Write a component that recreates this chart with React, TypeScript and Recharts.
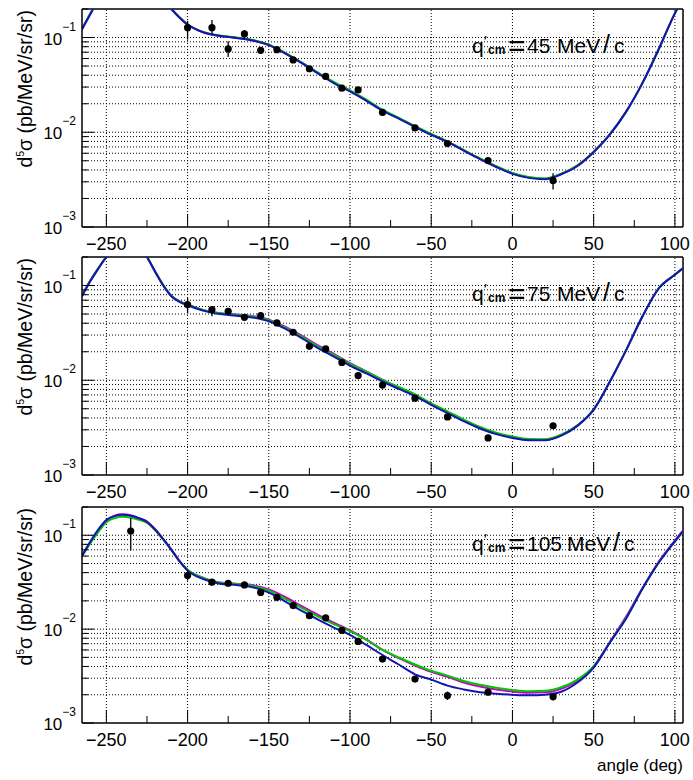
import React from 'react';
import { ComposedChart, Line, Scatter, XAxis, YAxis, ReferenceLine, ErrorBar } from 'recharts';

const FONT = '"Liberation Sans", Arial, Helvetica, sans-serif';
const BLUE = '#1414b4';
const GREEN = '#00c800';
const MAGENTA = '#c800c8';

// angles where the model curves are sampled (deg)
const curveAngles = [
  -265, -260, -255, -250, -245, -240, -235, -230, -225, -220, -215, -210, -205, -200,
  -190, -180, -170, -160, -150, -140, -130, -120, -110, -100, -90, -80, -70, -60, -50,
  -40, -30, -20, -10, 0, 10, 20, 30, 40, 50, 60, 70, 80, 90, 100, 105,
];

// q'cm = 45 MeV/c
const p1Blue = [
  0.122, 0.175, 0.25, 0.33, 0.4, 0.44, 0.45, 0.43, 0.38, 0.31, 0.25, 0.2, 0.163, 0.137,
  0.113, 0.104, 0.099, 0.093, 0.083, 0.068, 0.054, 0.042, 0.033, 0.027, 0.0215, 0.0169, 0.0139, 0.0114, 0.0094,
  0.0079, 0.0064, 0.0052, 0.0043, 0.00364, 0.0033, 0.0032, 0.0036, 0.0044, 0.0062, 0.0095, 0.0165, 0.033, 0.075, 0.18, 0.26,
];
const p1Green = [
  0.124, 0.178, 0.25, 0.33, 0.4, 0.44, 0.45, 0.43, 0.38, 0.31, 0.25, 0.2, 0.164, 0.138,
  0.114, 0.105, 0.1, 0.094, 0.084, 0.069, 0.055, 0.043, 0.034, 0.0277, 0.0221, 0.0173, 0.0142, 0.0116, 0.0096,
  0.008, 0.0065, 0.0053, 0.0044, 0.00372, 0.00337, 0.00326, 0.00365, 0.00448, 0.0062, 0.0095, 0.0164, 0.033, 0.075, 0.18, 0.26,
];
const p1Magenta = [
  0.123, 0.176, 0.25, 0.33, 0.4, 0.44, 0.45, 0.43, 0.38, 0.31, 0.25, 0.2, 0.163, 0.137,
  0.113, 0.104, 0.0995, 0.0935, 0.0835, 0.0685, 0.0545, 0.0425, 0.0335, 0.0273, 0.0218, 0.0171, 0.0141, 0.0115, 0.0095,
  0.00795, 0.00645, 0.00525, 0.00435, 0.00368, 0.00334, 0.00323, 0.00362, 0.00445, 0.0062, 0.0095, 0.0165, 0.033, 0.075, 0.18, 0.26,
];
const p1PtAngles = [-200, -185, -175, -165, -155, -145, -135, -125, -115, -105, -95, -80, -60, -40, -15, 25];
const p1PtValues = [0.127, 0.127, 0.0758, 0.109, 0.0733, 0.0745, 0.058, 0.0468, 0.0388, 0.0292, 0.028, 0.0162, 0.0111, 0.0076, 0.00503, 0.00309];
const p1ErrLow = [0.032, 0.019, 0.0135, 0.012, 0.004, 0.004, 0.003, 0.0025, 0.002, 0.0015, 0.0015, 0.0009, 0.0006, 0.0004, 0.0003, 0.0006];
const p1ErrHigh = [0.023, 0.026, 0.0155, 0.011, 0.004, 0.004, 0.003, 0.0025, 0.002, 0.0015, 0.0015, 0.0009, 0.0006, 0.0004, 0.0003, 0.0006];

// q'cm = 75 MeV/c
const p2Blue = [
  0.077, 0.11, 0.15, 0.2, 0.25, 0.285, 0.29, 0.26, 0.2, 0.14, 0.1, 0.077, 0.067, 0.062,
  0.054, 0.05, 0.048, 0.046, 0.042, 0.035, 0.028, 0.022, 0.0178, 0.0143, 0.0118, 0.0097, 0.0081, 0.0068, 0.0055,
  0.0045, 0.0037, 0.0031, 0.0027, 0.00246, 0.00233, 0.00232, 0.0026, 0.0033, 0.0049, 0.0097, 0.0208, 0.047, 0.093, 0.13, 0.152,
];
const p2Green = [
  0.078, 0.112, 0.152, 0.2, 0.25, 0.285, 0.29, 0.26, 0.2, 0.141, 0.101, 0.078, 0.068, 0.063,
  0.055, 0.051, 0.049, 0.047, 0.043, 0.036, 0.029, 0.0228, 0.0185, 0.0149, 0.0123, 0.0101, 0.0085, 0.0071, 0.0057,
  0.0047, 0.00385, 0.00322, 0.0028, 0.00255, 0.0024, 0.00238, 0.00266, 0.00335, 0.0049, 0.0097, 0.0208, 0.047, 0.093, 0.13, 0.152,
];
const p2Magenta = [
  0.078, 0.112, 0.152, 0.2, 0.25, 0.285, 0.29, 0.26, 0.2, 0.141, 0.101, 0.078, 0.068, 0.063,
  0.055, 0.051, 0.0495, 0.0475, 0.0437, 0.0368, 0.0298, 0.0235, 0.019, 0.0152, 0.0124, 0.0101, 0.0084, 0.007, 0.0056,
  0.0046, 0.0038, 0.00318, 0.00276, 0.0025, 0.00236, 0.00235, 0.00263, 0.00333, 0.0049, 0.0097, 0.0208, 0.047, 0.093, 0.13, 0.152,
];
const p2PtAngles = [-200, -185, -175, -165, -155, -145, -135, -125, -115, -105, -95, -80, -60, -40, -15, 25];
const p2PtValues = [0.063, 0.0557, 0.0535, 0.0462, 0.048, 0.0403, 0.0321, 0.0228, 0.0214, 0.0154, 0.0112, 0.0089, 0.00647, 0.0041, 0.00246, 0.00331];
const p2ErrLow = [0.012, 0.0084, 0.003, 0.0025, 0.0025, 0.002, 0.0016, 0.0012, 0.0011, 0.0008, 0.0006, 0.0005, 0.0003, 0.0002, 0.00015, 0.0002];
const p2ErrHigh = [0.011, 0.005, 0.003, 0.0025, 0.0025, 0.002, 0.0016, 0.0012, 0.0011, 0.0008, 0.0006, 0.0005, 0.0003, 0.0002, 0.00015, 0.0002];

// q'cm = 105 MeV/c
const p3Blue = [
  0.06, 0.085, 0.115, 0.145, 0.16, 0.165, 0.161, 0.152, 0.139, 0.115, 0.091, 0.07, 0.053, 0.042,
  0.034, 0.0305, 0.0295, 0.028, 0.0245, 0.0198, 0.0157, 0.0127, 0.0104, 0.0087, 0.0068, 0.0053, 0.0042, 0.0033, 0.0029,
  0.0025, 0.00228, 0.00213, 0.00205, 0.002, 0.00197, 0.002, 0.00215, 0.0027, 0.0039, 0.0072, 0.013, 0.027, 0.051, 0.086, 0.111,
];
const p3Green = [
  0.06, 0.082, 0.108, 0.138, 0.152, 0.157, 0.154, 0.146, 0.135, 0.113, 0.09, 0.07, 0.053, 0.043,
  0.035, 0.0312, 0.0302, 0.0289, 0.0257, 0.0211, 0.0169, 0.0137, 0.0113, 0.0095, 0.0077, 0.006, 0.005, 0.0042, 0.0036,
  0.0032, 0.0028, 0.00255, 0.00237, 0.00225, 0.00218, 0.0022, 0.0024, 0.0029, 0.004, 0.0072, 0.0132, 0.0268, 0.051, 0.086, 0.108,
];
const p3Magenta = [
  0.061, 0.083, 0.112, 0.145, 0.162, 0.167, 0.163, 0.152, 0.14, 0.116, 0.091, 0.071, 0.053, 0.043,
  0.035, 0.0313, 0.0305, 0.0294, 0.0265, 0.022, 0.0177, 0.0143, 0.0117, 0.0097, 0.0078, 0.006, 0.0049, 0.0041, 0.0035,
  0.0031, 0.0027, 0.00245, 0.00228, 0.00216, 0.0021, 0.00212, 0.00232, 0.0028, 0.004, 0.0073, 0.0136, 0.0272, 0.052, 0.088, 0.112,
];
const p3PtAngles = [-235, -200, -185, -175, -165, -155, -145, -135, -125, -115, -105, -95, -80, -60, -40, -15, 25];
const p3PtValues = [0.111, 0.0372, 0.0316, 0.0308, 0.0296, 0.0246, 0.0218, 0.0178, 0.0139, 0.0132, 0.0097, 0.0074, 0.0048, 0.00294, 0.00196, 0.00213, 0.0019];
const p3ErrLow = [0.042, 0.0043, 0.0025, 0.0018, 0.0016, 0.0014, 0.0012, 0.001, 0.0008, 0.0007, 0.0005, 0.0004, 0.0003, 0.00018, 0.0002, 0.00012, 0.00015];
const p3ErrHigh = [0.042, 0.005, 0.0025, 0.0018, 0.0016, 0.0014, 0.0012, 0.001, 0.0008, 0.0007, 0.0005, 0.0004, 0.0003, 0.00018, 0.0002, 0.00012, 0.00015];

// axes
const xMajorTicks = [-250, -200, -150, -100, -50, 0, 50, 100];
const xMinorTicks = [-225, -175, -125, -75, -25, 25, 75];
const xTicks = [...xMajorTicks, ...xMinorTicks].sort((a, b) => a - b);
const yTicks = [
  0.001, 0.002, 0.003, 0.004, 0.005, 0.006, 0.007, 0.008, 0.009,
  0.01, 0.02, 0.03, 0.04, 0.05, 0.06, 0.07, 0.08, 0.09,
  0.1, 0.2,
];
const yGrid = yTicks.slice(1, -1);

const panels = [
  { top: 0, h: 260, q: '45', blue: p1Blue, green: p1Green, magenta: p1Magenta, px: p1PtAngles, py: p1PtValues, lo: p1ErrLow, hi: p1ErrHigh },
  { top: 248, h: 260, q: '75', blue: p2Blue, green: p2Green, magenta: p2Magenta, px: p2PtAngles, py: p2PtValues, lo: p2ErrLow, hi: p2ErrHigh },
  { top: 498, h: 258, q: '105', blue: p3Blue, green: p3Green, magenta: p3Magenta, px: p3PtAngles, py: p3PtValues, lo: p3ErrLow, hi: p3ErrHigh },
];

const fmtX = (v: number) => (v < 0 ? '\u2212' + Math.abs(v) : String(v));

function XTick(props: any) {
  const { x, y, payload } = props;
  const v = payload.value;
  const major = v % 50 === 0;
  return (
    <g>
      <line x1={x} x2={x} y1={y} y2={y - (major ? 13 : 7)} stroke="#000" strokeWidth={1} />
      {major && (
        <text x={x} y={y + 23} textAnchor="middle" fontSize={18} fontFamily={FONT} fill="#000">
          {fmtX(v)}
        </text>
      )}
    </g>
  );
}

function YTick(props: any) {
  const { x, y, payload } = props;
  const lg = Math.log10(payload.value);
  const decade = Math.abs(lg - Math.round(lg)) < 1e-6;
  return (
    <g>
      <line x1={x} x2={x + (decade ? 12 : 6)} y1={y} y2={y} stroke="#000" strokeWidth={1} />
      {decade && (
        <text x={x - 6} y={y + 7} textAnchor="end" fontFamily={FONT} fill="#000">
          <tspan fontSize={17}>10</tspan>
          <tspan fontSize={12} dy={-14}>{'\u2212' + Math.abs(Math.round(lg))}</tspan>
        </text>
      )}
    </g>
  );
}

const PointShape = (p: any) => <circle cx={p.cx} cy={p.cy} r={3.6} fill="#000" />;

function Panel({ cfg }: { cfg: any }) {
  const mk = (vals: number[]) => curveAngles.map((x, i) => ({ x, y: vals[i] }));
  const pts = cfg.px.map((x: number, i: number) => ({ x, y: cfg.py[i], err: [cfg.lo[i], cfg.hi[i]] }));
  const dotted = { stroke: '#000', strokeWidth: 1, strokeDasharray: '1 2' };
  return (
    <div style={{ position: 'absolute', left: 0, top: cfg.top }}>
      <ComposedChart width={693} height={cfg.h} margin={{ top: 9, right: 10, bottom: 0, left: 0 }}>
        <XAxis
          type="number" dataKey="x" domain={[-265, 105]} allowDataOverflow
          ticks={xTicks} interval={0} tickSize={0} tickMargin={0} tickLine={false}
          tick={(p: any) => <XTick {...p} />} axisLine={{ stroke: '#000', strokeWidth: 1.5 }} height={33}
        />
        <YAxis
          type="number" dataKey="y" scale="log" domain={[0.001, 0.2]} allowDataOverflow
          ticks={yTicks} interval={0} tickSize={0} tickMargin={0} tickLine={false}
          tick={(p: any) => <YTick {...p} />} axisLine={{ stroke: '#000', strokeWidth: 1.5 }} width={82}
        />
        {yGrid.map((v) => <ReferenceLine key={'h' + v} y={v} {...dotted} />)}
        {xMajorTicks.map((v) => <ReferenceLine key={'v' + v} x={v} {...dotted} />)}
        <ReferenceLine x={105} stroke="#000" strokeWidth={1.5} />
        <ReferenceLine y={0.2} stroke="#000" strokeWidth={1.5} />
        <Line data={mk(cfg.magenta)} dataKey="y" type="monotone" stroke={MAGENTA} strokeWidth={2} dot={false} isAnimationActive={false} />
        <Line data={mk(cfg.green)} dataKey="y" type="monotone" stroke={GREEN} strokeWidth={2} dot={false} isAnimationActive={false} />
        <Line data={mk(cfg.blue)} dataKey="y" type="monotone" stroke={BLUE} strokeWidth={2} dot={false} isAnimationActive={false} />
        <Scatter data={pts} dataKey="y" fill="#000" shape={PointShape} isAnimationActive={false}>
          <ErrorBar dataKey="err" direction="y" width={0} stroke="#000" strokeWidth={1.3} isAnimationActive={false} />
        </Scatter>
      </ComposedChart>
    </div>
  );
}

function QLabel({ y, value }: { y: number; value: string }) {
  const shift = (value.length - 2) * 10;
  return (
    <text y={y} fontFamily={FONT} fontSize={21} fill="#000">
      <tspan x={472}>q</tspan>
      <tspan x={484} dy={-7} fontSize={15}>{'\u2032'}</tspan>
      <tspan x={488} dy={8} fontSize={12} fontWeight="bold">cm</tspan>
      <tspan x={508} dy={2} fontSize={30}>=</tspan>
      <tspan x={527} dy={-3}>{value}</tspan>
      <tspan x={557 + shift}>MeV</tspan>
      <tspan x={603 + shift} fontSize={25}>/</tspan>
      <tspan x={614 + shift}>c</tspan>
    </text>
  );
}

export default function App() {
  return (
    <div style={{ position: 'absolute', left: 0, top: 0, width: 693, height: 780, background: '#fff' }}>
      {panels.map((cfg, i) => <Panel key={i} cfg={cfg} />)}
      <svg width={693} height={780} style={{ position: 'absolute', left: 0, top: 0, pointerEvents: 'none' }}>
        {panels.map((cfg, i) => {
          const plotTop = cfg.top + 9;
          return (
            <g key={i}>
              <text transform={`translate(32, ${plotTop + 1}) rotate(-90)`} textAnchor="end" fontSize={19.5} fontFamily={FONT} fill="#000">
                d<tspan fontSize={10} dy={-8}>5</tspan><tspan dy={8}>σ (pb/MeV/sr/sr)</tspan>
              </text>
              <QLabel y={plotTop + 44} value={cfg.q} />
            </g>
          );
        })}
        <text x={683} y={771} textAnchor="end" fontSize={17} fontFamily={FONT} fill="#000">angle (deg)</text>
      </svg>
    </div>
  );
}
